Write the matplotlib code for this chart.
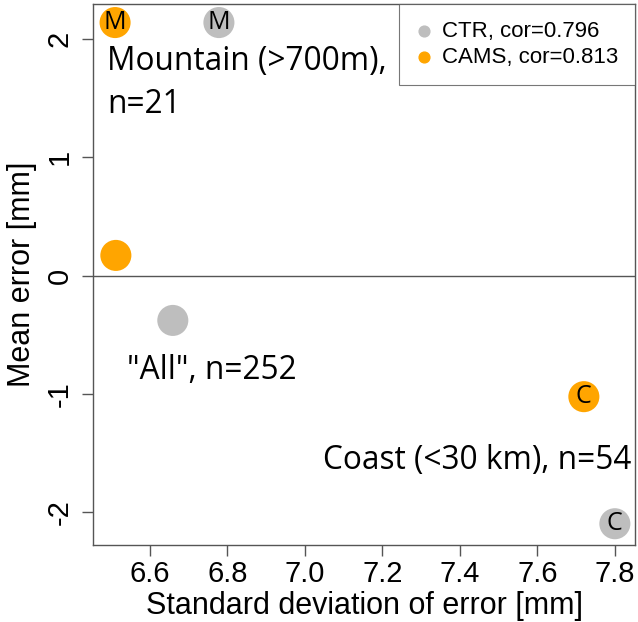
import matplotlib
matplotlib.use("Agg")
import matplotlib.pyplot as plt

# scores per region: (std of error, mean error)
regions = ["Mountain", "All", "Coast"]
markers = ["M", "", "C"]
ctr_sd = [6.778, 6.659, 7.80]
ctr_me = [2.14, -0.38, -2.10]
cams_sd = [6.51, 6.512, 7.72]
cams_me = [2.14, 0.17, -1.025]

ctr_label = "CTR, cor=0.796"
cams_label = "CAMS, cor=0.813"
xticks = [6.6, 6.8, 7.0, 7.2, 7.4, 7.6, 7.8]
yticks = [-2, -1, 0, 1, 2]

grey = "#BEBEBE"
orange = "#FFA500"
note_font = "Open Sans"
axis_font = "Liberation Sans"
note_size = 22.8

fig = plt.figure(figsize=(6.38, 6.22), dpi=100)
ax = fig.add_axes([93 / 638, 1 - 545 / 622, (635 - 93) / 638, (545 - 4) / 622])

ax.axhline(0, color="#555555", lw=1.0, zorder=1)

for sd, me, col in [(ctr_sd, ctr_me, grey), (cams_sd, cams_me, orange)]:
    ax.scatter(sd, me, s=500, color=col, edgecolors="none", zorder=3, clip_on=False)
    for x, y, m in zip(sd, me, markers):
        if m:
            ax.text(x, y, m, ha="center", va="center", fontsize=18,
                    family=note_font, zorder=4)

# legend proxies
ax.scatter([], [], s=60, color=grey, label=ctr_label)
ax.scatter([], [], s=60, color=orange, label=cams_label)
leg = ax.legend(loc="upper right", frameon=True, fancybox=False,
                edgecolor="#555555", handletextpad=0.4, borderpad=0.75,
                labelspacing=0.25, borderaxespad=0, handlelength=0.8,
                prop={"family": axis_font, "size": 16})
leg.get_frame().set_linewidth(0.8)

ax.text(6.49, 1.81, "Mountain (>700m),", fontsize=note_size, family=note_font,
        ha="left", va="center")
ax.text(6.49, 1.45, "n=21", fontsize=note_size, family=note_font,
        ha="left", va="center")
ax.text(6.76, -0.8, '"All", n=252', fontsize=note_size, family=note_font,
        ha="center", va="center")
ax.text(7.843, -1.565, "Coast (<30 km), n=54", fontsize=note_size,
        family=note_font, ha="right", va="center")

ax.set_xlim(6.453, 7.852)
ax.set_ylim(-2.28, 2.297)
ax.set_xticks(xticks)
ax.set_xticklabels([f"{t:.1f}" for t in xticks])
ax.set_yticks(yticks)
ax.set_yticklabels([str(t) for t in yticks], rotation=90, va="center")

for sp in ax.spines.values():
    sp.set_color("#555555")
    sp.set_linewidth(1.0)
ax.tick_params(length=8, width=1, color="#555555", labelsize=21)
ax.tick_params(axis="x", pad=3)
ax.tick_params(axis="y", pad=6)
for lab in ax.get_xticklabels() + ax.get_yticklabels():
    lab.set_family(axis_font)

ax.set_xlabel("Standard deviation of error [mm]", fontsize=22,
              family=axis_font, labelpad=2)
ax.set_ylabel("Mean error [mm]", fontsize=22, family=axis_font, labelpad=6)

fig.savefig("out.png", dpi=100)
